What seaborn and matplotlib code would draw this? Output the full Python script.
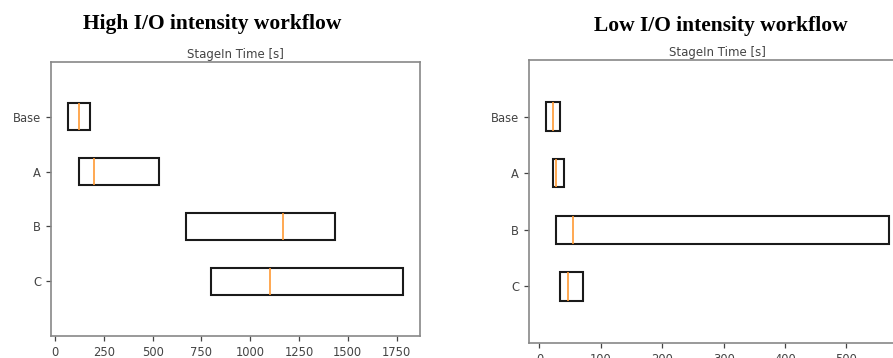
import pandas as pd
import numpy as np
import seaborn as sns
import matplotlib.pyplot as plt

# configurations (top to bottom)
configs = ["Base", "A", "B", "C"]

# box stats: first quartile, median, third quartile [s]
high_q1 = [65, 123, 670, 801]
high_med = [120, 199, 1168, 1103]
high_q3 = [179, 530, 1432, 1784]

low_q1 = [10.4, 21.8, 26.7, 34]
low_med = [22.8, 27, 54.3, 47]
low_q3 = [34.2, 40.7, 569, 71]

high_ticks = [0, 250, 500, 750, 1000, 1250, 1500, 1750]
low_ticks = [0, 100, 200, 300, 400, 500]


def to_long(q1, med, q3):
    # five samples per group give exactly these quartiles, and no whiskers
    rows = []
    for name, a, m, b in zip(configs, q1, med, q3):
        for v in (a, a, m, b, b):
            rows.append({"config": name, "time": v})
    return pd.DataFrame(rows)


def draw(ax, df, ticks):
    sns.boxplot(data=df, x="time", y="config", order=configs, orient="h",
                ax=ax, width=0.5, color="white", linecolor="#1a1a1a",
                saturation=1, linewidth=1.5, showcaps=False, whis=0,
                medianprops={"color": "#ff9933", "linewidth": 1.2})
    ax.set_xlabel("")
    ax.set_ylabel("")
    ax.set_ylim(4.0, -1.0)
    ax.set_xticks(ticks)
    ax.set_title("StageIn Time [s]", fontsize=8.5, color="#444444", pad=3)
    ax.tick_params(labelsize=8.3, colors="#444444", length=3.5, width=0.9,
                   bottom=True, left=True)
    for sp in ax.spines.values():
        sp.set_color("#888888")
        sp.set_linewidth(1.2)


sns.set_style("ticks")
fig = plt.figure(figsize=(8.93, 3.58), dpi=100)

ax1 = fig.add_axes([51 / 893, 1 - 336 / 358, (420 - 51) / 893, (336 - 62) / 358])
draw(ax1, to_long(high_q1, high_med, high_q3), high_ticks)
ax1.margins(x=0.05)

ax2 = fig.add_axes([528.7 / 893, 1 - 343 / 358, (906 - 528.7) / 893, (343 - 60) / 358])
draw(ax2, to_long(low_q1, low_med, low_q3), low_ticks)
ax2.margins(x=0.05)

fig.text(212 / 893, 1 - 24 / 358, "High I/O intensity workflow", ha="center", va="center",
         fontsize=15.5, fontweight="bold", family="Liberation Serif", color="black")
fig.text(721 / 893, 1 - 26 / 358, "Low I/O intensity workflow", ha="center", va="center",
         fontsize=15.5, fontweight="bold", family="Liberation Serif", color="black")

fig.savefig("out.png", dpi=100)
